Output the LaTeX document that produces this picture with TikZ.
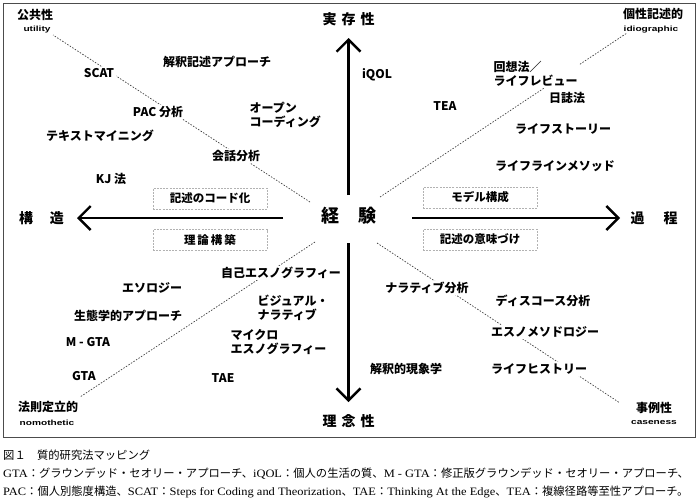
\documentclass[tikz,border=0pt]{standalone}
\usepackage{fontspec}
\usepackage{graphicx}
\setmainfont{Liberation Serif}
\newfontfamily\jp{Noto Sans CJK JP}
\newfontfamily\esans{Liberation Sans}
\newfontfamily\capser[FakeStretch=1.1]{Liberation Serif}
\usetikzlibrary{arrows.meta}
\tikzset{
  lbl/.style={font=\jp\bfseries\fontsize{12}{14}\selectfont, fill=white, inner sep=1.5pt},
  mlbl/.style={lbl, align=left, anchor=west},
  corner/.style={font=\jp\bfseries\fontsize{12}{14}\selectfont, inner sep=1pt},
  eng/.style={font=\esans\bfseries\fontsize{7.5}{9}\selectfont, inner sep=1pt},
  axlbl/.style={font=\jp\bfseries\fontsize{14}{16}\selectfont, inner sep=1pt},
  ctrlbl/.style={font=\jp\bfseries\fontsize{18}{20}\selectfont, inner sep=1pt},
  axisarrow/.style={line width=2.4pt, -{Straight Barb[length=12pt,width=24pt]}},
  diag/.style={gray!50!black, line width=0.7pt, dash pattern=on 1.5pt off 1.5pt},
  dbox/.style={draw=gray!60, line width=0.6pt, dash pattern=on 2pt off 1.2pt,
    minimum width=114pt, minimum height=21pt, inner sep=0pt,
    font=\jp\bfseries\fontsize{11.5}{13}\selectfont},
  captext/.style={anchor=west, inner sep=0pt, font=\capser\fontsize{11.3}{13}\selectfont},
}
\begin{document}
\begin{tikzpicture}[x=1pt,y=-1pt]
\useasboundingbox (0,0) rectangle (698,501);
\draw[gray!60!black, line width=1pt] (3,3) rectangle (695,437);

% diagonal endpoints
\coordinate (dtl0) at (310,202); \coordinate (dtl1) at (53,35);
\coordinate (dtr0) at (380,197); \coordinate (dtr1) at (627,33);
\coordinate (dbl0) at (315,242); \coordinate (dbl1) at (80,397);
\coordinate (dbr0) at (377,243); \coordinate (dbr1) at (620,403);
\draw[diag] (dtl0) -- (dtl1);
\draw[diag] (dtr0) -- (dtr1);
\draw[diag] (dbl0) -- (dbl1);
\draw[diag] (dbr0) -- (dbr1);

% corner labels
\node[corner] (koukyo) at (35,15) {公共性};
\node[eng] (util) at (37,30) {\scalebox{1.35}[1]{utility}};
\node[corner] (kosei) at (653,14) {個性記述的};
\node[eng] (idio) at (651,30) {\scalebox{1.35}[1]{idiographic}};
\node[corner] (hosoku) at (48,407) {法則定立的};
\node[eng] (nomo) at (47,423) {\scalebox{1.35}[1]{nomothetic}};
\node[corner] (jirei) at (654,408) {事例性};
\node[eng] (case) at (654,423) {\scalebox{1.35}[1]{caseness}};

% method labels
\node[lbl] (kaishaku) at (217,62) {解釈記述アプローチ};
\node[lbl] (scat) at (99,73) {SCAT};
\node[lbl] (pac) at (158,112) {PAC 分析};
\node[mlbl] (open) at (248,114.5) {オープン\\コーディング};
\node[lbl] (textm) at (100,136) {テキストマイニング};
\node[lbl] (kaiwa) at (236,156) {会話分析};
\node[lbl] (kj) at (111,179) {KJ 法};
\node[lbl] (iqol) at (377,75) {iQOL};
\node[mlbl] (kaiso) at (492,73.5) {回想法／\\ライフレビュー};
\node[lbl] (nisshi) at (567,98) {日誌法};
\node[lbl] (tea) at (445,106) {TEA};
\node[lbl] (ls) at (563,129) {ライフストーリー};
\node[lbl] (llm) at (555,166) {ライフラインメソッド};
\node[lbl] (jiko) at (281,273) {自己エスノグラフィー};
\node[lbl] (etho) at (152,288) {エソロジー};
\node[mlbl] (visual) at (256,307.5) {ビジュアル・\\ナラティブ};
\node[lbl] (seitai) at (128,316) {生態学的アプローチ};
\node[lbl] (mgta) at (88,342) {M - GTA};
\node[mlbl] (micro) at (229,342.5) {マイクロ\\エスノグラフィー};
\node[lbl] (gta) at (84,376) {GTA};
\node[lbl] (tae) at (223,378) {TAE};
\node[lbl] (narr) at (427,288) {ナラティブ分析};
\node[lbl] (disc) at (543,301) {ディスコース分析};
\node[lbl] (ethnom) at (545,332) {エスノメソドロジー};
\node[lbl] (gensho) at (406,369) {解釈的現象学};
\node[lbl] (lh) at (539,369) {ライフヒストリー};

% dashed boxes
\node[dbox] (code) at (210,198.5) {記述のコード化};
\node[dbox] (riron) at (210,240) {理\hspace{2pt}論\hspace{2pt}構\hspace{2pt}築};
\node[dbox] (model) at (480,197.5) {モデル構成};
\node[dbox] (imi) at (480,239.5) {記述の意味づけ};

% axes
\node[axlbl] (top) at (348.5,19) {実\hspace{5pt}存\hspace{5pt}性};
\node[axlbl] (bot) at (348.5,421) {理\hspace{5pt}念\hspace{5pt}性};
\node[axlbl] (left) at (41.5,218) {構\hspace{17pt}造};
\node[axlbl] (right) at (654,218) {過\hspace{19pt}程};
\node[ctrlbl] (ctr) at (349,216) {経\hspace{19pt}験};

\coordinate (vt0) at (348.5,195); \coordinate (vt1) at (348.5,38);
\coordinate (vb0) at (348.5,243); \coordinate (vb1) at (348.5,402);
\coordinate (hl0) at (283,218); \coordinate (hl1) at (77,218);
\coordinate (hr0) at (412,218); \coordinate (hr1) at (620,218);
\draw[axisarrow] (vt0) -- (vt1);
\draw[axisarrow] (vb0) -- (vb1);
\draw[axisarrow] (hl0) -- (hl1);
\draw[axisarrow] (hr0) -- (hr1);

% caption
\node[captext] (cap1) at (3,455) {\jp 図１　質的研究法マッピング};
\node[captext] (cap2) at (3,474) {GTA{\jp ：グラウンデッド・セオリー・アプローチ、}iQOL{\jp ：個人の生活の質、}M - GTA{\jp ：修正版グラウンデッド・セオリー・アプローチ、}};
\node[captext] (cap3) at (3,492) {PAC{\jp ：個人別態度構造、}SCAT{\jp ：}Steps for Coding and Theorization{\jp 、}TAE{\jp ：}Thinking At the Edge{\jp 、}TEA{\jp ：複線径路等至性アプローチ。}};
\end{tikzpicture}
\end{document}
